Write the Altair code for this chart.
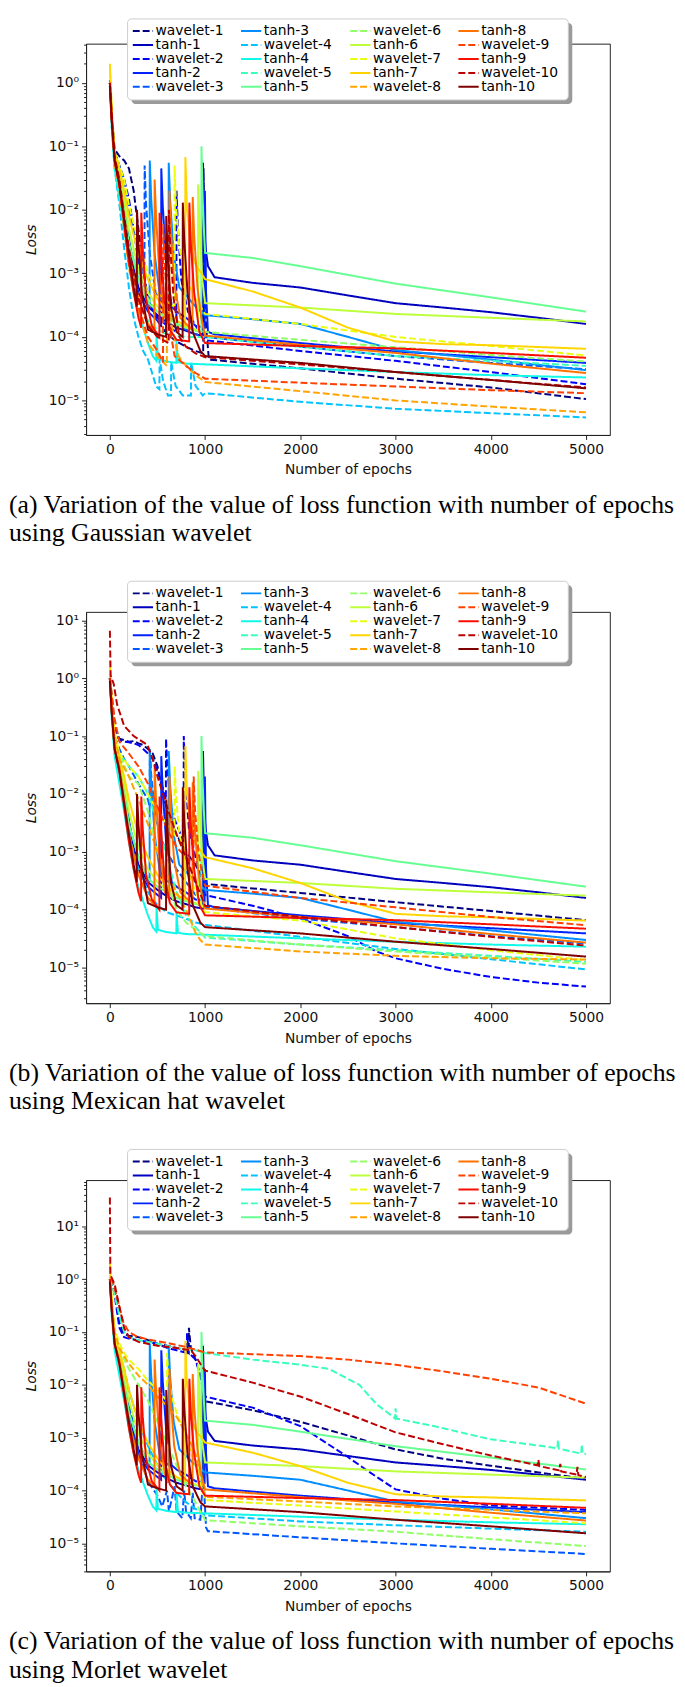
import altair as alt
import pandas as pd

# ---------------- data (epoch, loss) ----------------
# tanh runs are the same in all three panels
tanh_1 = [(0,1.0),(20,0.3),(50,0.07),(100,0.035),(150,0.012),(200,3.5e-3),(250,1.2e-3),(300,6e-4),(400,3e-4),(500,2.2e-4),(600,1.7e-4),(700,1.4e-4),(800,1.25e-4),(900,1.1e-4),(975,1.05e-4),(978,5.5e-2),(990,6e-3),(1005,2.5e-3),(1030,1.3e-3),(1100,8.7e-4),(1500,7.1e-4),(2000,6.0e-4),(2500,4.5e-4),(3000,3.4e-4),(3500,2.9e-4),(4000,2.45e-4),(4500,2e-4),(5000,1.6e-4)]
tanh_2 = [(0,1.1),(20,0.3),(50,0.06),(100,0.03),(150,8e-3),(200,2e-3),(300,5e-4),(400,2.5e-4),(500,1.8e-4),(538,1.6e-4),(540,4.5e-2),(555,1.2e-2),(590,1.5e-3),(650,3e-4),(700,2.5e-4),(800,2e-4),(900,1.5e-4),(995,1.4e-4),(998,2e-2),(1010,5e-4),(1030,1.2e-4),(1100,1.1e-4),(2000,8e-5),(3000,5.9e-5),(4000,4.8e-5),(5000,3.9e-5)]
tanh_3 = [(0,1.0),(20,0.3),(50,0.06),(100,0.03),(150,0.01),(200,3e-3),(300,8e-4),(417,3e-4),(419,6e-2),(434,1.5e-2),(470,2e-3),(530,4e-4),(616,3e-4),(618,5.5e-2),(633,1.4e-2),(670,2e-3),(730,6e-4),(800,4.5e-4),(900,3e-4),(1000,2.2e-4),(1500,1.9e-4),(2000,1.6e-4),(2500,1e-4),(3000,6.2e-5),(4000,4.4e-5),(5000,3e-5)]
tanh_4 = [(0,0.9),(20,0.2),(50,0.045),(100,0.015),(150,5e-3),(200,1.5e-3),(250,5e-4),(300,2.5e-4),(350,1.4e-4),(400,8e-5),(450,5e-5),(488,4.2e-5),(490,1.1e-4),(505,4.5e-5),(600,4.1e-5),(698,3.9e-5),(700,9e-5),(715,4e-5),(800,3.8e-5),(900,3.75e-5),(1000,3.7e-5),(2000,3.2e-5),(3000,2.8e-5),(4000,2.5e-5),(5000,2.3e-5)]
tanh_5 = [(0,1.0),(20,0.3),(50,0.07),(100,0.03),(150,0.01),(200,3e-3),(300,8e-4),(400,3.5e-4),(500,2.5e-4),(600,2e-4),(700,1.6e-4),(800,1.4e-4),(900,1.25e-4),(960,1.2e-4),(962,0.1),(975,1.5e-2),(990,4e-3),(1000,2.1e-3),(1500,1.75e-3),(2000,1.3e-3),(3000,6.9e-4),(4000,4.2e-4),(5000,2.5e-4)]
tanh_6 = [(0,1.0),(20,0.3),(50,0.07),(100,0.04),(150,0.015),(200,5e-3),(300,1.2e-3),(400,5e-4),(500,3e-4),(600,2.2e-4),(700,1.8e-4),(800,1.5e-4),(900,1.3e-4),(925,1.25e-4),(927,2.5e-2),(942,6e-3),(970,8e-4),(1000,3.4e-4),(2000,2.9e-4),(3000,2.3e-4),(4000,2e-4),(5000,1.75e-4)]
tanh_7 = [(0,2.0),(20,0.4),(50,0.08),(100,0.045),(150,0.02),(200,8e-3),(300,2e-3),(400,8e-4),(500,4e-4),(600,2.5e-4),(700,1.8e-4),(790,1.5e-4),(793,6.8e-2),(808,1.2e-2),(850,2.5e-3),(900,1.4e-3),(1000,8.1e-4),(1500,5.2e-4),(2000,2.9e-4),(2500,1.4e-4),(3000,8.5e-5),(3500,7.7e-5),(4000,7.4e-5),(5000,6.5e-5)]
tanh_8 = [(0,1.0),(20,0.3),(50,0.06),(100,0.03),(150,8e-3),(200,2e-3),(300,4e-4),(400,1.6e-4),(468,1.2e-4),(470,3e-2),(485,8e-3),(520,1e-3),(580,2e-4),(624,1.5e-4),(626,2e-2),(640,5e-3),(675,7e-4),(740,2e-4),(800,1.6e-4),(868,1.3e-4),(870,1.6e-2),(885,4e-3),(920,6e-4),(960,2e-4),(1000,1.05e-4),(2000,7.5e-5),(3000,5.6e-5),(4000,3.8e-5),(5000,2.7e-5)]
tanh_9 = [(0,1.0),(20,0.25),(50,0.06),(100,0.025),(150,6e-3),(200,1.5e-3),(250,5e-4),(300,2e-4),(328,1.4e-4),(330,9e-3),(345,2.5e-3),(380,4e-4),(440,1.5e-4),(520,1e-4),(522,9e-3),(537,2.5e-3),(570,4e-4),(630,1.3e-4),(700,9e-5),(833,8.5e-5),(835,1.3e-2),(850,3e-3),(885,5e-4),(940,1.2e-4),(1000,8e-5),(2000,7.2e-5),(3000,6.6e-5),(4000,5.6e-5),(5000,4.7e-5)]
tanh_10 = [(0,0.9),(20,0.25),(50,0.06),(100,0.025),(150,7e-3),(200,2e-3),(250,6e-4),(283,3e-4),(285,1e-2),(300,3e-3),(335,5e-4),(400,1.3e-4),(500,1.1e-4),(590,1e-4),(592,8e-3),(607,2e-3),(640,3e-4),(700,1.2e-4),(764,1e-4),(766,1.3e-2),(781,3.5e-3),(815,5e-4),(870,1.2e-4),(950,6e-5),(1000,5e-5),(2000,3.9e-5),(3000,2.8e-5),(4000,2.1e-5),(5000,1.55e-5)]

# (a) Gaussian wavelet
gauss_w1 = [(0,1.0),(20,0.3),(50,0.09),(100,0.07),(150,0.06),(200,0.045),(250,0.02),(300,5e-3),(350,1.2e-3),(400,4e-4),(500,1.8e-4),(600,1.1e-4),(700,8.5e-5),(800,7e-5),(900,6e-5),(980,5.5e-5),(983,4.5e-2),(995,2e-3),(1010,1.5e-4),(1040,4.4e-5),(2000,3.2e-5),(3000,2.2e-5),(4000,1.6e-5),(5000,1.05e-5)]
gauss_w2 = [(0,1.0),(20,0.3),(50,0.08),(100,0.05),(150,0.03),(200,0.015),(250,5e-3),(300,1.5e-3),(400,4e-4),(500,2e-4),(600,1.5e-4),(698,1.2e-4),(700,2e-2),(715,5e-3),(750,8e-4),(820,2.5e-4),(900,1.5e-4),(1000,8.9e-5),(2000,6e-5),(3000,4.2e-5),(4000,2.8e-5),(5000,1.8e-5)]
gauss_w3 = [(0,1.0),(20,0.3),(50,0.08),(100,0.05),(150,0.03),(200,0.01),(300,2e-3),(363,6e-4),(365,5e-2),(380,1.2e-2),(420,2e-3),(480,5e-4),(600,2.2e-4),(700,1.6e-4),(800,1.3e-4),(900,1.1e-4),(1000,1e-4),(2000,7e-5),(3000,5e-5),(4000,3.9e-5),(5000,3.1e-5)]
gauss_w4 = [(0,0.9),(20,0.2),(50,0.045),(100,0.012),(150,2.5e-3),(200,6e-4),(250,2e-4),(300,1e-4),(350,6e-5),(400,4.4e-5),(487,1.65e-5),(520,1.5e-5),(522,4.5e-5),(560,2e-5),(610,1.2e-5),(642,1.2e-5),(644,4e-5),(690,1.7e-5),(765,1.2e-5),(851,1.2e-5),(853,4e-5),(900,1.7e-5),(975,1.2e-5),(1000,1.3e-5),(2000,9.5e-6),(3000,7.4e-6),(4000,6.3e-6),(5000,5.4e-6)]
gauss_w5 = [(0,1.0),(20,0.25),(50,0.06),(100,0.03),(150,8e-3),(200,2e-3),(300,4e-4),(400,1.8e-4),(500,1.3e-4),(600,1.1e-4),(700,1.05e-4),(800,1e-4),(900,1e-4),(1000,1e-4),(2000,7e-5),(3000,5e-5),(4000,4.2e-5),(5000,3.5e-5)]
gauss_w6 = [(0,1.0),(20,0.3),(50,0.07),(100,0.04),(150,0.015),(200,5e-3),(300,1e-3),(400,4e-4),(500,2.5e-4),(600,1.8e-4),(700,1.5e-4),(800,1.4e-4),(900,1.3e-4),(1000,1.2e-4),(2000,9e-5),(3000,6.9e-5),(4000,5.2e-5),(5000,4.1e-5)]
gauss_w7 = [(0,1.5),(20,0.35),(50,0.08),(100,0.05),(150,0.03),(200,0.012),(300,3e-3),(400,1e-3),(500,5e-4),(600,3.5e-4),(677,3e-4),(679,5e-2),(694,1.2e-2),(730,2.5e-3),(800,8e-4),(900,4e-4),(1000,2.3e-4),(2000,1.6e-4),(3000,1.0e-4),(4000,7.2e-5),(5000,5.1e-5)]
gauss_w8 = [(0,1.0),(20,0.25),(50,0.05),(100,0.02),(150,5e-3),(200,1.2e-3),(300,2.5e-4),(400,8e-5),(500,5e-5),(598,3.5e-5),(600,4e-3),(615,1e-3),(650,1.5e-4),(720,5e-5),(800,3.5e-5),(900,2.5e-5),(1000,1.95e-5),(2000,1.4e-5),(3000,1e-5),(4000,8e-6),(5000,6.5e-6)]
gauss_w9 = [(0,1.0),(20,0.25),(50,0.06),(100,0.025),(150,6e-3),(200,1.5e-3),(300,3e-4),(400,1e-4),(500,6e-5),(558,4e-5),(560,6e-3),(575,1.5e-3),(610,2e-4),(680,5e-5),(800,3.5e-5),(900,2.7e-5),(1000,2.2e-5),(2000,1.9e-5),(3000,1.66e-5),(4000,1.45e-5),(5000,1.3e-5)]
gauss_w10 = [(0,1.0),(20,0.3),(50,0.07),(100,0.03),(150,8e-3),(200,2.5e-3),(300,4e-4),(400,1.5e-4),(500,1e-4),(618,8e-5),(620,1e-2),(635,2.5e-3),(670,4e-4),(730,1e-4),(800,7e-5),(900,5.5e-5),(1000,4.8e-5),(2000,3.7e-5),(3000,2.8e-5),(4000,2.1e-5),(5000,1.6e-5)]

# (b) Mexican hat wavelet
mex_w1 = [(0,1.0),(20,0.5),(50,0.15),(100,0.09),(150,0.085),(200,0.08),(250,0.082),(300,0.075),(350,0.07),(400,0.06),(450,0.05),(500,0.03),(550,0.012),(600,5e-3),(700,2e-3),(800,1e-3),(900,6e-4),(1000,2.8e-4),(2000,1.95e-4),(3000,1.35e-4),(4000,9.5e-5),(5000,6.6e-5)]
mex_w2 = [(0,1.0),(20,0.4),(50,0.12),(100,0.085),(150,0.08),(200,0.078),(250,0.075),(300,0.07),(350,0.06),(400,0.05),(450,0.04),(500,0.025),(560,0.012),(588,8e-3),(590,0.09),(605,0.025),(650,5e-3),(700,3e-3),(774,1.5e-3),(776,0.1),(791,0.02),(830,2.5e-3),(900,8e-4),(950,4e-4),(1000,1.8e-4),(1500,1.17e-4),(2000,7.1e-5),(2500,3.5e-5),(2800,1.9e-5),(3000,1.45e-5),(3500,9.5e-6),(4000,6.9e-6),(4500,5.5e-6),(5000,4.7e-6)]
mex_w3 = [(0,1.0),(20,0.35),(50,0.1),(100,0.06),(150,0.04),(200,0.03),(300,0.015),(400,8e-3),(418,6e-3),(420,6e-2),(435,0.02),(480,4e-3),(550,1.5e-3),(600,1e-3),(700,5e-4),(800,3e-4),(900,1.8e-4),(1000,1.1e-4),(2000,7e-5),(3000,5e-5),(4000,3.5e-5),(5000,2.6e-5)]
mex_w4 = [(0,1.0),(20,0.25),(50,0.06),(100,0.02),(150,6e-3),(200,2e-3),(300,5e-4),(400,2e-4),(500,1.2e-4),(600,9e-5),(800,7e-5),(900,6e-5),(1000,5.5e-5),(2000,3.4e-5),(3000,2.1e-5),(4000,1.4e-5),(5000,9.3e-6)]
mex_w5 = [(0,1.0),(20,0.3),(50,0.1),(100,0.05),(200,0.03),(300,0.02),(400,0.01),(500,3e-3),(600,8e-4),(700,2e-4),(800,8e-5),(900,5e-5),(1000,3.3e-5),(2000,2.5e-5),(3000,2e-5),(4000,1.6e-5),(5000,1.26e-5)]
mex_w6 = [(0,1.0),(20,0.3),(50,0.1),(100,0.05),(200,0.02),(300,0.015),(400,5e-3),(500,1e-3),(600,3e-4),(700,1e-4),(800,6e-5),(900,4.5e-5),(1000,3.5e-5),(2000,2.5e-5),(3000,1.9e-5),(4000,1.5e-5),(5000,1.17e-5)]
mex_w7 = [(0,1.2),(20,0.4),(50,0.12),(100,0.05),(200,0.03),(300,0.02),(400,0.01),(500,5e-3),(600,3e-3),(678,2e-3),(680,3e-2),(695,9e-3),(730,2e-3),(800,6e-4),(900,2e-4),(1000,9.1e-5),(2000,6.5e-5),(3000,3.2e-5),(4000,2e-5),(5000,1.35e-5)]
mex_w8 = [(0,1.0),(20,0.3),(50,0.1),(100,0.04),(200,0.02),(300,8e-3),(400,3e-3),(500,1e-3),(600,4e-4),(700,2e-4),(800,1e-4),(900,4e-5),(950,3e-5),(1000,2.5e-5),(2000,1.9e-5),(3000,1.6e-5),(4000,1.45e-5),(5000,1.38e-5)]
mex_w9 = [(0,1.0),(20,0.5),(50,0.2),(100,0.08),(200,0.05),(300,0.03),(400,0.015),(500,6e-3),(600,2.5e-3),(700,1.2e-3),(878,6e-4),(880,2e-2),(895,5e-3),(930,1e-3),(960,5e-4),(1000,2.6e-4),(2000,1.6e-4),(3000,1.1e-4),(4000,7.5e-5),(5000,5.4e-5)]
mex_w10 = [(0,6.6),(8,1.1),(40,0.8),(76,0.35),(150,0.15),(250,0.1),(395,0.07),(450,0.04),(500,0.02),(600,6e-3),(700,2e-3),(800,8e-4),(900,3e-4),(1000,1.17e-4),(2000,7.5e-5),(3000,5e-5),(4000,3.4e-5),(5000,2.4e-5)]

# (c) Morlet wavelet
morlet_w1 = [(0,1.0),(20,0.8),(50,0.6),(100,0.15),(150,0.09),(200,0.085),(300,0.08),(400,0.07),(500,0.06),(600,0.055),(700,0.05),(800,0.045),(828,0.04),(830,0.12),(850,0.05),(900,0.03),(950,0.015),(1000,4.9e-3),(1500,3.3e-3),(2000,2.0e-3),(2500,1.1e-3),(3000,6e-4),(3500,4e-4),(4000,2.95e-4),(4500,2.2e-4),(5000,1.66e-4)]
morlet_w2 = [(0,1.0),(20,0.9),(50,0.5),(100,0.12),(150,0.08),(200,0.075),(300,0.07),(400,0.065),(500,0.06),(600,0.05),(700,0.045),(808,0.04),(810,0.095),(830,0.04),(900,0.03),(950,0.015),(1000,6e-3),(1500,3.7e-3),(2000,1.66e-3),(2500,4.3e-4),(2700,2.4e-4),(3000,1.05e-4),(3500,7e-5),(4000,5.2e-5),(5000,4.3e-5)]
morlet_w3 = [(0,1.0),(20,0.3),(50,0.08),(100,0.04),(150,0.015),(200,5e-3),(300,5e-4),(400,1.5e-4),(500,8e-5),(550,5e-5),(600,1e-4),(620,4e-5),(680,1.2e-4),(700,4e-5),(760,3e-5),(780,1e-4),(800,4e-5),(850,3e-5),(870,9e-5),(890,3e-5),(950,2.8e-5),(970,1e-4),(990,1e-4),(1010,2e-5),(1030,1.7e-5),(2000,1.3e-5),(3000,1e-5),(4000,7.9e-6),(5000,6.3e-6)]
morlet_w4 = [(0,1.0),(20,0.3),(50,0.08),(100,0.04),(150,0.02),(200,8e-3),(300,2e-3),(400,7e-4),(500,3e-4),(600,1.5e-4),(700,9e-5),(800,6e-5),(900,4.5e-5),(1000,3.4e-5),(2000,2.6e-5),(3000,2.2e-5),(4000,1.9e-5),(5000,1.66e-5)]
morlet_w5 = [(0,1.0),(20,0.8),(50,0.5),(100,0.2),(150,0.1),(200,0.08),(300,0.07),(500,0.06),(700,0.05),(900,0.045),(1000,0.04),(1500,0.03),(2000,0.024),(2300,0.02),(2620,0.01),(2800,4.3e-3),(2960,2.6e-3),(2995,2.3e-3),(3000,3.6e-3),(3010,2.3e-3),(3400,1.66e-3),(4000,9.3e-4),(4500,7.1e-4),(4700,6.3e-4),(4705,9e-4),(4715,6.2e-4),(4950,5e-4),(4955,7.5e-4),(4965,5e-4),(5000,4.9e-4)]
morlet_w6 = [(0,1.0),(20,0.3),(50,0.1),(100,0.05),(150,0.03),(200,0.02),(300,0.01),(400,5e-3),(500,2e-3),(600,8e-4),(700,3e-4),(800,1.2e-4),(900,6e-5),(950,4e-5),(1000,2.75e-5),(2000,2.1e-5),(3000,1.66e-5),(4000,1.2e-5),(5000,8.9e-6)]
morlet_w7 = [(0,1.2),(20,0.4),(50,0.12),(100,0.06),(150,0.04),(200,0.03),(300,0.02),(400,0.012),(500,8e-3),(598,5e-3),(600,0.04),(615,0.015),(650,6e-3),(700,3e-3),(800,1e-3),(900,3e-4),(1000,6.6e-5),(2000,5.2e-5),(3000,4e-5),(4000,3.1e-5),(5000,2.4e-5)]
morlet_w8 = [(0,1.0),(20,0.35),(50,0.1),(100,0.05),(150,0.035),(200,0.025),(300,0.015),(400,0.01),(500,6e-3),(600,4e-3),(700,2.5e-3),(800,1.2e-3),(900,5e-4),(950,2e-4),(1000,7.6e-5),(2000,6.2e-5),(3000,5e-5),(4000,4.3e-5),(5000,3.7e-5)]
morlet_w9 = [(0,1.0),(30,0.9),(52,0.66),(100,0.3),(140,0.155),(200,0.1),(280,0.083),(400,0.072),(600,0.062),(800,0.052),(1000,0.041),(1500,0.038),(2000,0.035),(2500,0.03),(3000,0.024),(3500,0.018),(4000,0.013),(4500,8.9e-3),(5000,4.4e-3)]
morlet_w10 = [(0,35.0),(5,1.2),(50,0.8),(100,0.3),(150,0.12),(200,0.08),(300,0.065),(500,0.055),(700,0.05),(850,0.045),(900,0.035),(950,0.025),(1000,0.0186),(1500,0.011),(2000,6e-3),(2500,2.8e-3),(3000,1.26e-3),(3500,7.5e-4),(4000,4.6e-4),(4490,3e-4),(4500,3.8e-4),(4510,2.9e-4),(4720,2.4e-4),(4730,3.2e-4),(4740,2.3e-4),(4900,2e-4),(4910,2.8e-4),(4920,1.95e-4),(5000,1.8e-4)]

tanh_runs = [tanh_1, tanh_2, tanh_3, tanh_4, tanh_5, tanh_6, tanh_7, tanh_8, tanh_9, tanh_10]
gauss_runs = [gauss_w1, gauss_w2, gauss_w3, gauss_w4, gauss_w5, gauss_w6, gauss_w7, gauss_w8, gauss_w9, gauss_w10]
mex_runs = [mex_w1, mex_w2, mex_w3, mex_w4, mex_w5, mex_w6, mex_w7, mex_w8, mex_w9, mex_w10]
morlet_runs = [morlet_w1, morlet_w2, morlet_w3, morlet_w4, morlet_w5, morlet_w6, morlet_w7, morlet_w8, morlet_w9, morlet_w10]

x_ticks = [0, 1000, 2000, 3000, 4000, 5000]
captions = [
    ["(a) Variation of the value of loss function with number of epochs", "using Gaussian wavelet"],
    ["(b) Variation of the value of loss function with number of epochs", "using Mexican hat wavelet"],
    ["(c) Variation of the value of loss function with number of epochs", "using Morlet wavelet"],
]
y_domains = [[2.86e-6, 4.14], [2.43e-6, 14.0], [2.95e-6, 75.0]]

# ---------------- styling ----------------
series_order = []
for k in range(1, 11):
    series_order += [f"wavelet-{k}", f"tanh-{k}"]


def jet(t):
    def seg(pts):
        for (x0, y0), (x1, y1) in zip(pts, pts[1:]):
            if x0 <= t <= x1:
                return y0 + (y1 - y0) * (t - x0) / (x1 - x0)
        return pts[-1][1]
    r = seg([(0, 0), (0.35, 0), (0.66, 1), (0.89, 1), (1, 0.5)])
    g = seg([(0, 0), (0.125, 0), (0.375, 1), (0.64, 1), (0.91, 0), (1, 0)])
    b = seg([(0, 0.5), (0.11, 1), (0.34, 1), (0.65, 0), (1, 0)])
    return "#%02x%02x%02x" % tuple(int(round(v * 255)) for v in (r, g, b))


color_range = [jet(i / 19) for i in range(20)]
dash_range = [([7, 3] if s.startswith("wavelet") else [1, 0]) for s in series_order]
COLOR_SCALE = alt.Scale(domain=series_order, range=color_range)
DASH_SCALE = alt.Scale(domain=series_order, range=dash_range)

W, H = 530, 396
# legend box geometry (pixels relative to the plot's top-left corner)
LEG_X, LEG_W, LEG_H = 42, 446, 82
ROW0, ROW_STEP = 12.3, 14.1
COL_OFF = [0, 109.5, 220, 329.5]
SYM_X0, SYM_X1, TXT_X = 5.3, 25.8, 28.3


def frame(runs):
    rows = []
    for k in range(10):
        for name, run in ((f"wavelet-{k+1}", runs[k]), (f"tanh-{k+1}", tanh_runs[k])):
            for e, v in run:
                rows.append({"series": name, "epoch": e, "loss": v})
    return pd.DataFrame(rows)


def legend_frame(top):
    rows = []
    for i, s in enumerate(series_order):
        r, c = i % 5, i // 5
        x0 = LEG_X + COL_OFF[c]
        rows.append({"series": s, "sx": x0 + SYM_X0, "sx2": x0 + SYM_X1,
                     "tx": x0 + TXT_X, "ly": top + ROW0 + ROW_STEP * r})
    return pd.DataFrame(rows)


def log_ticks(lo, hi):
    vals = []
    for p in range(-7, 3):
        for m in range(1, 10):
            v = m * 10.0 ** p
            if lo <= v <= hi:
                vals.append(v)
    return vals


MINOR = "abs(log(datum.value)/LN10 - round(log(datum.value)/LN10)) > 0.01"
LABEL = ("abs(log(datum.value)/LN10 - round(log(datum.value)/LN10)) > 0.01 ? '' : "
         "'10' + (round(log(datum.value)/LN10) < 0 ? '\u207b' : '') + "
         "['\u2070','\u00b9','\u00b2','\u00b3','\u2074','\u2075','\u2076','\u2077','\u2078','\u2079']"
         "[abs(round(log(datum.value)/LN10))]")


def panel(runs, ydom, caption, leg_top):
    df = frame(runs)
    lines = alt.Chart(df).mark_line(strokeWidth=2, clip=True).encode(
        x=alt.X("epoch:Q",
                scale=alt.Scale(domain=[-250, 5250], nice=False, zero=False),
                axis=alt.Axis(values=x_ticks, title="Number of epochs", format="d",
                              tickSize=4.5, labelPadding=3, titlePadding=7)),
        y=alt.Y("loss:Q",
                scale=alt.Scale(type="log", domain=ydom, nice=False),
                axis=alt.Axis(values=log_ticks(*ydom), labelExpr=LABEL,
                              tickSize={"condition": {"test": MINOR, "value": 2.5}, "value": 4.5},
                              labelOverlap=False, labelFlush=False,
                              title="Loss", titleFontStyle="italic", titlePadding=10,
                              labelPadding=3)),
        color=alt.Color("series:N", scale=COLOR_SCALE, legend=None),
        strokeDash=alt.StrokeDash("series:N", scale=DASH_SCALE, legend=None),
    )
    one = alt.Data(values=[{}])
    shadow = alt.Chart(one).mark_rect(color="#9a9a9a", cornerRadius=4).encode(
        x=alt.value(LEG_X + 4), x2=alt.value(LEG_X + 4 + LEG_W),
        y=alt.value(leg_top + 4), y2=alt.value(leg_top + 4 + LEG_H),
    )
    box = alt.Chart(one).mark_rect(fill="white", stroke="#cccccc", strokeWidth=1, cornerRadius=4).encode(
        x=alt.value(LEG_X), x2=alt.value(LEG_X + LEG_W),
        y=alt.value(leg_top), y2=alt.value(leg_top + LEG_H),
    )
    ldf = legend_frame(leg_top)
    syms = alt.Chart(ldf).mark_rule(strokeWidth=2).encode(
        x=alt.X("sx:Q", scale=None, axis=None), x2="sx2:Q",
        y=alt.Y("ly:Q", scale=None, axis=None),
        color=alt.Color("series:N", scale=COLOR_SCALE, legend=None),
        strokeDash=alt.StrokeDash("series:N", scale=DASH_SCALE, legend=None),
    )
    labels = alt.Chart(ldf).mark_text(align="left", baseline="middle", font="DejaVu Sans",
                                      fontSize=14, color="black").encode(
        x=alt.X("tx:Q", scale=None, axis=None),
        y=alt.Y("ly:Q", scale=None, axis=None),
        text="series:N",
    )
    return alt.layer(lines, shadow, box, syms, labels).properties(
        width=W, height=H,
        title=alt.TitleParams(text=caption, orient="bottom", anchor="start", frame="group",
                              dx=-78, offset=15, font="Liberation Serif", fontSize=26,
                              fontWeight="normal", lineHeight=29, color="black", limit=1000),
    )


pa = panel(gauss_runs, y_domains[0], captions[0], -25)
pb = panel(mex_runs, y_domains[1], captions[1], -31)
pc = panel(morlet_runs, y_domains[2], captions[2], -31)

chart = alt.vconcat(pa, pb, pc, spacing=179, bounds="flush").properties(padding=0).configure(
    font="DejaVu Sans"
).configure_view(
    stroke="#222222", strokeWidth=1
).configure_axis(
    grid=False, domainColor="#222222", tickColor="#222222", labelColor="#111111",
    titleColor="#111111", labelFont="DejaVu Sans", titleFont="DejaVu Sans",
    labelFontSize=14, titleFontSize=14, titleFontWeight="normal",
)

chart.save("out.html", embed_options={"renderer": "svg", "actions": False})
